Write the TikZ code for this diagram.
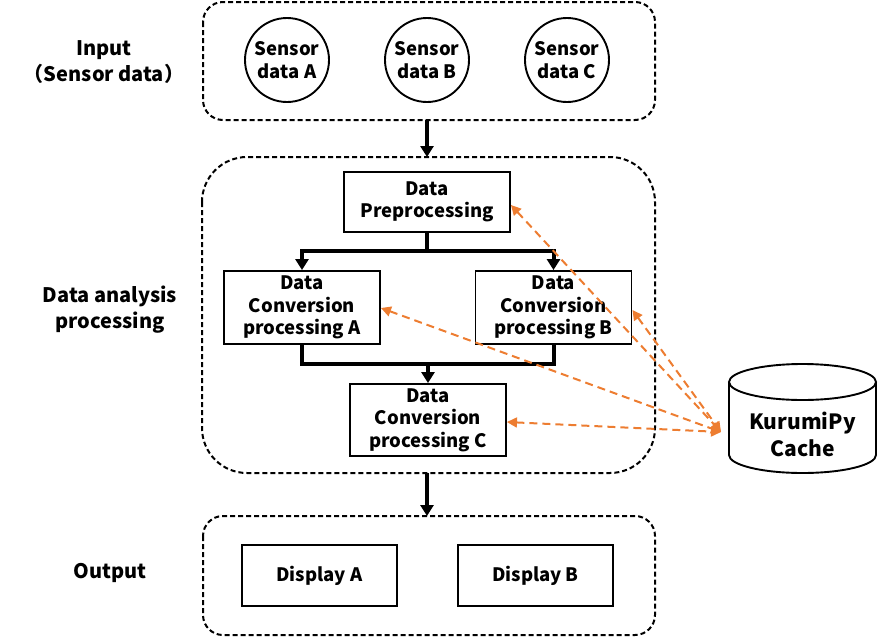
\documentclass[tikz,border=0pt]{standalone}
\usepackage{fontspec}
\setmainfont{Noto Sans CJK JP}
\usetikzlibrary{arrows.meta}
\definecolor{korange}{HTML}{ED7D31}
\tikzset{
  x=1pt,y=-1pt,
  every node/.style={font=\fontsize{18.5}{22.5}\selectfont\bfseries, align=center, inner sep=0pt},
  group/.style={draw, line width=2pt, dash pattern=on 5pt off 3pt},
  sensor/.style={draw, circle, line width=1.9pt, minimum size=84pt},
  procbox/.style={draw, line width=1.9pt, rectangle},
  flow/.style={line width=4pt, -{Triangle[width=13pt,length=11pt]}},
  flowline/.style={line width=4pt},
  cachelink/.style={korange, line width=2pt, dash pattern=on 8pt off 5pt, {Triangle[width=10pt,length=10pt]}-{Triangle[width=10pt,length=10pt]}},
  sidelabel/.style={font=\fontsize{20}{26}\selectfont\bfseries}
}
\begin{document}
\begin{tikzpicture}
\useasboundingbox (0,0) rectangle (880,637);
% group boxes
\draw[group, rounded corners=20pt] (203,2) rectangle (655,120);
\draw[group, rounded corners=45pt] (202,157) rectangle (655,473);
\draw[group, rounded corners=20pt] (203,516) rectangle (655,635);
\coordinate (intop) at (427,120);
\coordinate (anatop) at (427,157);
\coordinate (anabot) at (427,473);
\coordinate (outtop) at (427,516);
% side labels
\node[sidelabel] (linput) at (104,62) {Input\\（Sensor data）};
\node[sidelabel] (lana) at (110,310) {Data analysis\\processing};
\node[sidelabel] (lout) at (110,573) {Output};
% sensors
\node[sensor] (sa) at (287,60) {Sensor\\data A};
\node[sensor] (sb) at (427,60) {Sensor\\data B};
\node[sensor] (sc) at (567,60) {Sensor\\data C};
% processing boxes
\node[procbox, minimum width=166pt, minimum height=60pt] (pre) at (427,202) {Data\\Preprocessing};
\node[procbox, minimum width=156pt, minimum height=73pt] (ca) at (302,307.5) {Data\\Conversion\\processing A};
\node[procbox, minimum width=156pt, minimum height=73pt] (cb) at (553.5,307.5) {Data\\Conversion\\processing B};
\node[procbox, minimum width=156pt, minimum height=72pt] (cc) at (428,420) {Data\\Conversion\\processing C};
% outputs
\node[procbox, minimum width=155pt, minimum height=61pt] (da) at (319.5,575.5) {Display A};
\node[procbox, minimum width=155pt, minimum height=61pt] (db) at (535.5,575.5) {Display B};
% main flow arrows
\draw[flow] (intop) -- (anatop);
\draw[flow] (anabot) -- (outtop);
\coordinate (split) at (427,251);
\coordinate (merge) at (428,364);
\draw[flowline] (pre.south) -- (split);
\draw[flow] (split) -| (ca.north);
\draw[flow] (split) -| (cb.north);
\draw[flowline] (ca.south) |- (merge);
\draw[flowline] (cb.south) |- (merge);
\draw[flow] (merge) -- (cc.north);
% cache cylinder
\draw[line width=1.9pt] (729,382) -- (729,455) arc[start angle=180, end angle=0, x radius=73.5, y radius=18] -- (876,382);
\draw[line width=1.9pt, fill=white] (802.5,382) ellipse[x radius=73.5, y radius=18];
\node[font=\fontsize{21}{27}\selectfont\bfseries] (cache) at (802.5,434) {KurumiPy\\Cache};
\coordinate (cachein) at (721,432);
% cache links
\draw[cachelink] (pre.east |- 0,205) -- (cachein);
\draw[cachelink] (ca.east |- 0,308) -- (cachein);
\draw[cachelink] (cb.east |- 0,310) -- (cachein);
\draw[cachelink] (cc.east |- 0,422) -- (cachein);
\end{tikzpicture}
\end{document}
